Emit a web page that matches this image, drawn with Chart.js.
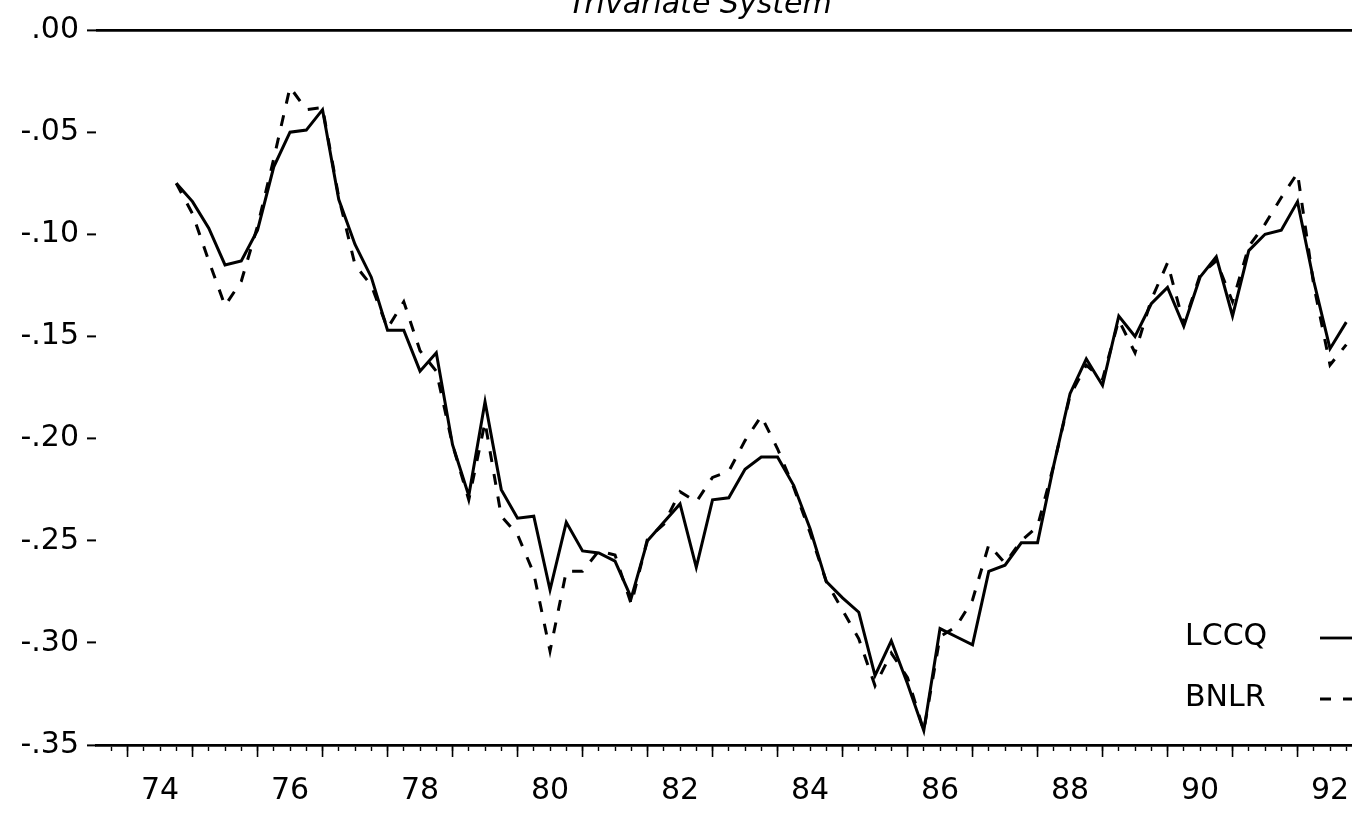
<!DOCTYPE html>
<html><head><meta charset="utf-8">
<script src="https://cdn.jsdelivr.net/npm/chart.js@4.4.0/dist/chart.umd.min.js"></script>
<style>html,body{margin:0;padding:0;background:#fff;}#wrap{width:1352px;height:817px;}canvas{display:block;}</style>
</head><body><div id="wrap"><canvas id="c" width="1352" height="817"></canvas></div>
<script>
const chartTitle = 'Trivariate System';
const seriesNames = ['LCCQ', 'BNLR'];
const firstQuarter = 74.25;   // first observation (axis year units)
const quarterStep = 0.25;
const xTickLabels = [74, 76, 78, 80, 82, 84, 86, 88, 90, 92];
const yTickValues = [0, -0.05, -0.10, -0.15, -0.20, -0.25, -0.30, -0.35];
const yTickLabels = ['.00', '-.05', '-.10', '-.15', '-.20', '-.25', '-.30', '-.35'];

const lccq = [
 -0.075, -0.084, -0.097, -0.115, -0.113, -0.098, -0.067, -0.050, -0.049, -0.039,
 -0.083, -0.105, -0.121, -0.147, -0.147, -0.167, -0.158, -0.203, -0.228, -0.182,
 -0.225, -0.239, -0.238, -0.274, -0.241, -0.255, -0.256, -0.260, -0.278, -0.250,
 -0.241, -0.232, -0.263, -0.230, -0.229, -0.215, -0.209, -0.209, -0.223, -0.244,
 -0.270, -0.278, -0.285, -0.316, -0.299, -0.320, -0.343, -0.293, -0.297, -0.301,
 -0.265, -0.262, -0.251, -0.251, -0.213, -0.178, -0.161, -0.174, -0.140, -0.150,
 -0.134, -0.126, -0.145, -0.121, -0.111, -0.140, -0.108, -0.100, -0.098, -0.084,
 -0.123, -0.156, -0.143
];
const bnlr = [
 -0.075, -0.090, -0.113, -0.135, -0.123, -0.096, -0.063, -0.028, -0.039, -0.038,
 -0.082, -0.115, -0.125, -0.146, -0.133, -0.157, -0.167, -0.203, -0.230, -0.192,
 -0.238, -0.247, -0.266, -0.304, -0.265, -0.265, -0.255, -0.257, -0.281, -0.249,
 -0.242, -0.226, -0.231, -0.219, -0.216, -0.201, -0.189, -0.205, -0.224, -0.246,
 -0.270, -0.284, -0.298, -0.321, -0.305, -0.317, -0.343, -0.297, -0.292, -0.279,
 -0.252, -0.261, -0.250, -0.243, -0.213, -0.179, -0.164, -0.171, -0.142, -0.158,
 -0.132, -0.114, -0.144, -0.120, -0.113, -0.133, -0.106, -0.095, -0.082, -0.070,
 -0.125, -0.164, -0.154
];

const quarters = lccq.map((_, i) => firstQuarter + i * quarterStep);
const toPoints = arr => arr.map((v, i) => ({x: quarters[i], y: v}));

const FONT = 'DejaVu Sans';
const dashPattern = [11, 12];

const overlay = {
  id: 'overlay',
  afterDraw(chart) {
    const {ctx, chartArea, scales: {x}} = chart;
    ctx.save();
    // longer year ticks on the time axis
    ctx.strokeStyle = '#000';
    ctx.lineWidth = 1.6;
    for (let v = 73.5; v <= 92; v += 1) {
      const px = x.getPixelForValue(v);
      ctx.beginPath();
      ctx.moveTo(px, chartArea.bottom);
      ctx.lineTo(px, chartArea.bottom + 12);
      ctx.stroke();
    }
    // title (partly cut off at the top, as in the scan)
    ctx.fillStyle = '#000';
    ctx.font = 'italic 30px "' + FONT + '"';
    ctx.textAlign = 'center';
    ctx.textBaseline = 'alphabetic';
    ctx.fillText(chartTitle, 700, 13);
    // legend
    ctx.font = '30px "' + FONT + '"';
    ctx.textAlign = 'left';
    ctx.textBaseline = 'middle';
    const rows = [637, 698];
    chart.data.datasets.forEach((ds, i) => {
      ctx.fillText(ds.label, 1185, rows[i]);
      ctx.setLineDash(ds.borderDash || []);
      ctx.lineWidth = 2.8;
      ctx.beginPath();
      ctx.moveTo(1320, rows[i] + 1);
      ctx.lineTo(1352, rows[i] + 1);
      ctx.stroke();
    });
    ctx.restore();
  }
};

new Chart(document.getElementById('c'), {
  type: 'line',
  data: {
    datasets: [
      {label: seriesNames[0], data: toPoints(lccq), borderColor: '#000', borderWidth: 3,
       pointRadius: 0, tension: 0, fill: false},
      {label: seriesNames[1], data: toPoints(bnlr), borderColor: '#000', borderWidth: 3,
       borderDash: dashPattern, pointRadius: 0, tension: 0, fill: false}
    ]
  },
  options: {
    responsive: false,
    animation: false,
    devicePixelRatio: 1,
    layout: {padding: {top: 30, right: 0, bottom: 0, left: 0}},
    plugins: {legend: {display: false}, title: {display: false}, tooltip: {enabled: false}},
    scales: {
      x: {
        type: 'linear', min: 73.015, max: 92.338,
        afterBuildTicks: s => {
          const t = [];
          for (let v = 73.25; v <= 92.25 + 1e-9; v += 0.25) t.push({value: v});
          s.ticks = t;
        },
        afterFit: s => { s.height = 72; s.paddingLeft = 0; s.paddingRight = 0; },
        grid: {drawOnChartArea: false, drawTicks: true, tickLength: 6, tickWidth: 1.4, tickColor: '#000'},
        border: {display: true, color: '#000', width: 2.8},
        ticks: {autoSkip: false, maxRotation: 0, minRotation: 0, padding: 22, color: '#000',
                font: {family: FONT, size: 30},
                callback: v => xTickLabels.includes(v) ? String(v) : ''}
      },
      y: {
        min: -0.35, max: 0,
        afterBuildTicks: s => { s.ticks = yTickValues.map(v => ({value: v})); },
        afterFit: s => { s.width = 96; s.paddingTop = 0; s.paddingBottom = 0; },
        grid: {drawOnChartArea: true,
               color: c => (c.tick && c.tick.value === 0) ? '#000' : 'rgba(0,0,0,0)',
               lineWidth: 2.8, drawTicks: true, tickLength: 9, tickColor: '#000', tickWidth: 2},
        border: {display: false},
        ticks: {padding: 8, color: '#000', font: {family: FONT, size: 30},
                callback: (v, i) => yTickLabels[i]}
      }
    }
  },
  plugins: [overlay]
});
</script>
</body></html>
